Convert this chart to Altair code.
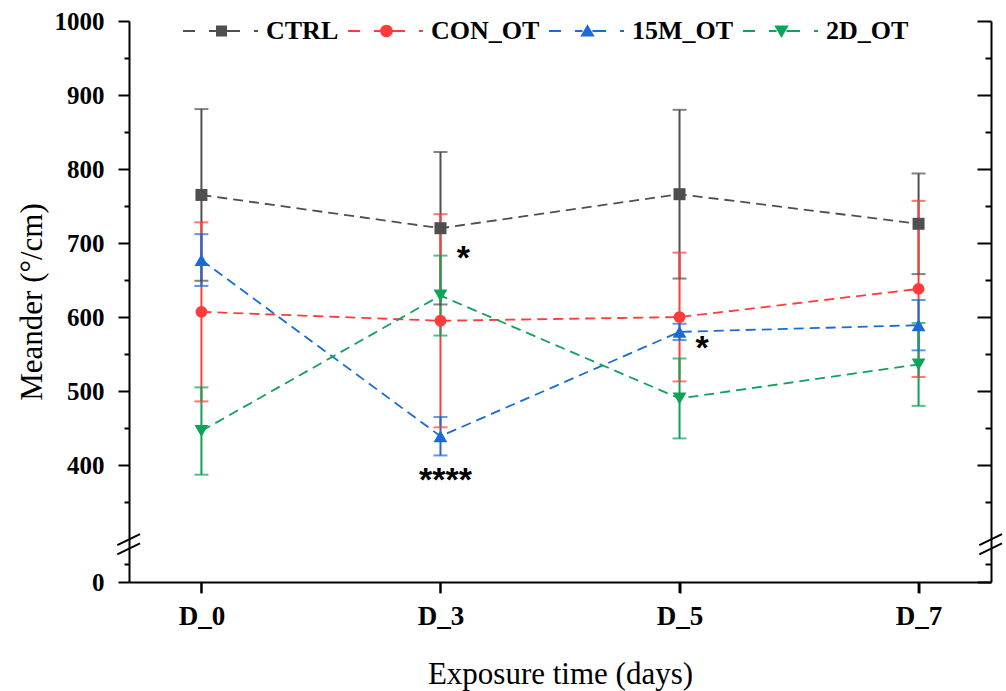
import json
import altair as alt
import pandas as pd

# ---------------- data ----------------
days = ["D_0", "D_3", "D_5", "D_7"]
series = ["CTRL", "CON_OT", "15M_OT", "2D_OT"]
colors = ["#4f4f4f", "#ff3c3c", "#1a6bd6", "#0fa35a"]

ctrl_mean = [765, 720, 766, 726]
ctrl_sd = [116, 103, 114, 68]
con_mean = [607, 595, 600, 638]
con_sd = [121, 144, 87, 119]
m15_mean = [677, 439, 580, 589]
m15_sd = [35, 26, 11, 34]
d2_mean = [446, 629, 490, 536]
d2_sd = [59, 54, 54, 56]

ann_day = ["D_3", "D_3", "D_5"]
ann_text = ["*", "****", "*"]
ann_value = [665, 365, 543]
ann_dx = [23, 5, 22.5]

# broken axis: bottom of the visible scale is labelled "0"
y_min = 242
y_max = 1000
major_ticks = [400, 500, 600, 700, 800, 900, 1000]
minor_ticks = [266, 350, 450, 550, 650, 750, 850, 950]
break_lo = [279.3, 291.9]
break_hi = [294.2, 306.8]

# ---------------- tables ----------------
means = [ctrl_mean, con_mean, m15_mean, d2_mean]
sds = [ctrl_sd, con_sd, m15_sd, d2_sd]
rows = []
for s, m, e in zip(series, means, sds):
    for d, mv, ev in zip(days, m, e):
        rows.append({"series": s, "day": d, "mean": mv, "sd": ev})
df = pd.DataFrame(rows)
ann_df = pd.DataFrame({"day": ann_day, "text": ann_text, "value": ann_value, "dx": ann_dx})
brk_df = pd.DataFrame({"lo": break_lo, "hi": break_hi})
day_df = pd.DataFrame({"day": days})

FONT = "Liberation Serif"
W, H = 862, 561

color_scale = alt.Scale(domain=series, range=colors)
y_scale = alt.Scale(domain=[y_min, y_max], nice=False, zero=False)
x_scale = alt.Scale(type="point", domain=days, padding=0.303)

x_axis = alt.Axis(
    title="Exposure time (days)", titleFont=FONT, titleFontSize=31, titleFontWeight="normal",
    titleColor="black", titleY=101, titleBaseline="alphabetic",
    labelFont=FONT, labelFontSize=27, labelFontWeight="bold", labelColor="black",
    labelPadding=10, labelAngle=0,
    domainColor="black", domainWidth=2, ticks=True, tickColor="black", tickWidth=2, tickSize=11,
    grid=False,
)
x_enc = alt.X("day:N", scale=x_scale, axis=x_axis)

tick_vals = sorted([y_min] + major_ticks + minor_ticks)
minor_test = "indexof(%s, datum.value) >= 0" % json.dumps(minor_ticks)

left_axis = alt.Axis(
    orient="left", offset=0, values=tick_vals, format="d",
    labelExpr=f"datum.value == {y_min} ? '0' : (datum.value % 100 == 0 ? datum.label : '')",
    labelFont=FONT, labelFontSize=25, labelFontWeight="bold", labelColor="black",
    labelPadding=14, labelOverlap=False, labelFlush=False,
    domainColor="black", domainWidth=2, ticks=True, tickColor="black", tickWidth=2,
    tickSize={"condition": {"test": minor_test, "value": 5}, "value": 11},
    title="Meander (°/cm)", titleFont=FONT, titleFontSize=31, titleFontWeight="normal",
    titleColor="black", titleAngle=270, titleX=-88, titleY=H / 2, titleBaseline="alphabetic",
    titleAlign="center",
    grid=False,
)
right_axis = alt.Axis(
    orient="left", offset=-W, values=tick_vals, labels=False, title=None,
    domainColor="black", domainWidth=2, ticks=True, tickColor="black", tickWidth=2,
    tickSize={"condition": {"test": minor_test, "value": 6}, "value": 14},
    grid=False,
)

base = alt.Chart(df)
col = alt.Color("series:N", scale=color_scale, legend=None)

# legend symbols: dashed line with marker (filled custom paths, unit = 5.5 px)
def rect(a, b):
    return f"M{a},-0.17H{b}V0.17H{a}Z"

dashes = rect(-7.0, -4.82) + rect(-2.27, -0.9) + rect(0.9, 3.36) + rect(5.91, 6.64)
markers = [
    "M-1,-1H1V1H-1Z",
    "M-1.15,0A1.15,1.15,0,1,1,1.15,0A1.15,1.15,0,1,1,-1.15,0Z",
    "M0,-1.25L1.3,1L-1.3,1Z",
    "M0,1.25L-1.3,-1L1.3,-1Z",
]
legend_paths = [dashes + m for m in markers]

leg = alt.Legend(
    title=None, orient="none", legendX=54.6, legendY=-3, direction="horizontal", columns=4,
    symbolSize=121, symbolStrokeWidth=0, symbolOffset=24.9, labelOffset=31.5, columnPadding=9,
    labelFont=FONT, labelFontSize=26, labelFontWeight="bold", labelColor="black",
    labelBaseline="middle", padding=0, labelLimit=300,
)
legend_layer = alt.Chart(df).mark_point(filled=True, opacity=1).encode(
    color=alt.Color("series:N", scale=color_scale, legend=leg),
    shape=alt.Shape("series:N", scale=alt.Scale(domain=series, range=legend_paths), legend=leg),
).transform_filter("false")

bars = base.mark_rule(strokeWidth=2).transform_calculate(
    lo="datum.mean - datum.sd", hi="datum.mean + datum.sd"
).encode(x=x_enc, y=alt.Y("lo:Q", scale=y_scale, axis=left_axis), y2="hi:Q", color=col)

caps_lo = base.mark_tick(thickness=2, size=14).transform_calculate(
    lo="datum.mean - datum.sd"
).encode(x=x_enc, y=alt.Y("lo:Q", scale=y_scale, axis=None), color=col)

caps_hi = base.mark_tick(thickness=2, size=14).transform_calculate(
    hi="datum.mean + datum.sd"
).encode(x=x_enc, y=alt.Y("hi:Q", scale=y_scale, axis=right_axis), color=col)

lines = base.mark_line(strokeDash=[10, 6], strokeWidth=1.8).encode(
    x=x_enc, y=alt.Y("mean:Q", scale=y_scale, axis=None), color=col, detail="series:N"
)

shapes = ["square", "circle", "triangle-up", "triangle-down"]
sizes = [144, 140, 190, 190]
point_layers = []
for s, shp, sz in zip(series, shapes, sizes):
    point_layers.append(
        base.mark_point(filled=True, opacity=1, shape=shp, size=sz)
        .transform_filter(alt.datum.series == s)
        .encode(x=x_enc, y=alt.Y("mean:Q", scale=y_scale, axis=None), color=col)
    )

ann_layers = []
for dxv in sorted(set(ann_dx)):
    ann_layers.append(
        alt.Chart(ann_df).transform_filter(alt.datum.dx == dxv).mark_text(
            font="Liberation Sans", fontSize=34, fontWeight="bold", color="black",
            align="center", baseline="alphabetic", dx=dxv,
        ).encode(x=x_enc, y=alt.Y("value:Q", scale=y_scale, axis=None), text="text:N")
    )

# x-axis tick marks (outward, at each category)
x_ticks = alt.Chart(day_df).mark_rule(color="black", strokeWidth=2).encode(
    x=x_enc, y=alt.value(H), y2=alt.value(H + 11)
)

brk_left = alt.Chart(brk_df).mark_rule(color="black", strokeWidth=2).encode(
    x=alt.value(-11.7), x2=alt.value(11), y=alt.Y("lo:Q", scale=y_scale, axis=None), y2="hi:Q"
)
brk_right = alt.Chart(brk_df).mark_rule(color="black", strokeWidth=2).encode(
    x=alt.value(W - 11.7), x2=alt.value(W + 11), y=alt.Y("lo:Q", scale=y_scale, axis=None), y2="hi:Q"
)

chart = alt.layer(
    legend_layer, bars, caps_lo, caps_hi, lines, *point_layers, *ann_layers,
    x_ticks, brk_left, brk_right
).resolve_axis(y="independent").properties(
    width=W, height=H,
    autosize=alt.AutoSizeParams(type="none"),
    padding={"left": 129, "top": 21, "right": 15, "bottom": 109},
).configure_view(stroke=None).configure_legend(
    labelFont=FONT, labelFontSize=26, labelFontWeight="bold", labelColor="black"
)

chart.save("out.html", embed_options={"renderer": "svg", "actions": False})
